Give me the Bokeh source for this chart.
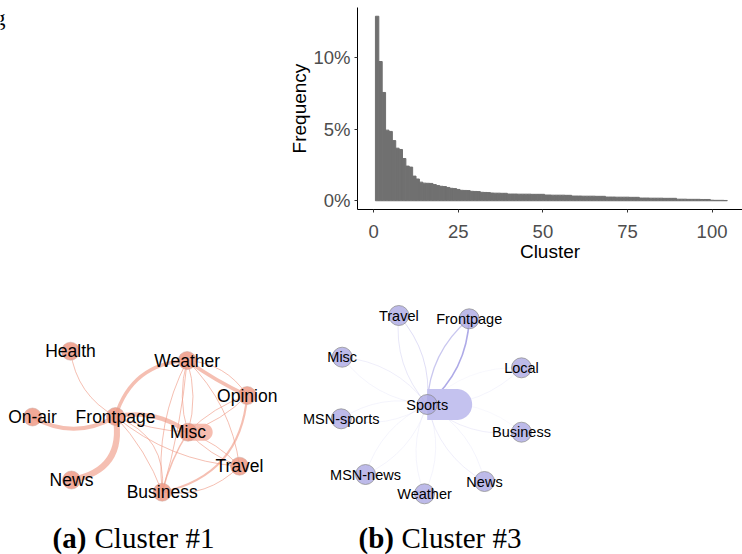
import numpy as np
from bokeh.plotting import figure
from bokeh.layouts import column, row
from bokeh.models import Range1d, FixedTicker, PrintfTickFormatter
from bokeh.core.properties import value
from bokeh.embed import file_html
from bokeh.resources import INLINE

# ---------------- histogram data ----------------
cluster_ids = list(range(1, 105))
cluster_freq = [
    12.88, 9.72, 7.56, 4.93, 4.84, 4.20, 3.67, 3.58, 2.95, 2.42,
    2.35, 1.72, 1.52, 1.30, 1.23, 1.22, 1.21, 1.13, 1.06, 1.01,
    0.99, 0.93, 0.87, 0.85, 0.79, 0.73, 0.72, 0.71, 0.66, 0.65,
    0.64, 0.59, 0.58, 0.57, 0.54, 0.53, 0.53, 0.52, 0.52,
    0.47, 0.47, 0.47, 0.46, 0.46, 0.46, 0.46, 0.45, 0.45, 0.45, 0.45,
    0.40, 0.40, 0.39, 0.39, 0.39, 0.39, 0.38, 0.38,
    0.33, 0.33, 0.33, 0.32, 0.32, 0.32, 0.32, 0.31, 0.31, 0.31,
    0.26, 0.26, 0.26, 0.25, 0.25, 0.25, 0.25, 0.24, 0.24, 0.24,
    0.19, 0.19, 0.19, 0.18, 0.18, 0.18, 0.18, 0.17, 0.17, 0.17, 0.17,
    0.11, 0.11, 0.11, 0.10, 0.10, 0.10, 0.10, 0.09, 0.09, 0.09,
    0.04, 0.03, 0.03, 0.03, 0.02,
]
x_ticks = [0, 25, 50, 75, 100]
y_ticks = [0, 5, 10]

# ---------------- network: cluster #1 ----------------
c1_names = ["Health", "Weather", "Opinion", "On-air", "Frontpage", "Misc", "Travel", "News", "Business"]
c1_x = [70, 186.7, 246.7, 32, 115, 187.5, 239, 71, 161.7]
c1_y = [350.7, 360, 395, 416.5, 416, 431.7, 465.7, 479.5, 491.7]
c1_src = ["Health", "On-air", "Frontpage", "Frontpage", "Frontpage", "Frontpage", "Frontpage", "Frontpage", "Frontpage",
          "Weather", "Weather", "Weather", "Weather", "Weather", "Weather", "Weather",
          "Opinion", "Opinion", "Opinion", "Misc", "Misc", "Misc", "Travel"]
c1_dst = ["Frontpage", "Frontpage", "News", "Weather", "Misc", "Misc", "Travel", "Business", "Business",
          "Opinion", "Opinion", "Misc", "Misc", "Business", "Business", "Travel",
          "Misc", "Misc", "Business", "Travel", "Travel", "Business", "Business"]
c1_weight = [1, 4, 6, 3.5, 4.5, 1, 1, 1, 1,
             3.5, 1, 1, 1, 1, 1, 1,
             1, 1, 2.2, 1, 1, 1.5, 1]
c1_curv = [0.25, 0.29, -0.5, -0.35, -0.22, 0.08, 0.16, -0.38, -0.1,
           0.05, -0.25, 0.15, -0.15, 0.15, -0.05, -0.17,
           0.12, -0.12, -0.37, 0.12, -0.12, 0.08, -0.25]
c1_loop_node = "Misc"
c1_loop_size = 8.5

# ---------------- network: cluster #3 ----------------
c3_names = ["Travel", "Frontpage", "Misc", "Local", "Sports", "MSN-sports", "Business", "MSN-news", "News", "Weather"]
c3_x = [398.3, 468.7, 341.7, 521, 426.7, 340.7, 521, 365, 484, 424]
c3_y = [315, 318.3, 356.7, 367.3, 404, 418.3, 431.7, 474, 481, 493.3]
c3_partners = ["Travel", "Frontpage", "Misc", "Local", "MSN-sports", "Business", "MSN-news", "News", "Weather"]
c3_weight_out = [1.0, 1.6, 0.8, 0.7, 0.7, 0.8, 0.7, 0.8, 0.7]
c3_weight_in = [0.9, 1.3, 0.7, 0.6, 0.7, 0.6, 0.7, 0.7, 0.7]
c3_curv = 0.22
c3_loop_node = "Sports"
c3_loop_size = 15.5


def curve_coords(names, xs, ys, src, dst, curv):
    idx = {n: i for i, n in enumerate(names)}
    x0, y0, x1, y1, cx, cy = [], [], [], [], [], []
    for a, b, c in zip(src, dst, curv):
        ax, ay = xs[idx[a]], ys[idx[a]]
        bx, by = xs[idx[b]], ys[idx[b]]
        dx, dy = bx - ax, by - ay
        mx, my = (ax + bx) / 2, (ay + by) / 2
        x0.append(ax); y0.append(ay); x1.append(bx); y1.append(by)
        cx.append(mx - c * dy); cy.append(my + c * dx)
    return dict(x0=x0, y0=y0, x1=x1, y1=y1, cx=cx, cy=cy)


def loop_shape(names, xs, ys, node, r):
    i = names.index(node)
    x, y = xs[i], ys[i]
    w = r * 1.9
    t = np.linspace(-np.pi / 2, np.pi / 2, 40)
    px = [x] + list(x + w + r * np.cos(t)) + [x]
    py = [y - r] + list(y + r * np.sin(t)) + [y + r]
    return px, py


def net_fig(w, xa, xb):
    p = figure(width=w, height=286, x_range=Range1d(xa, xb), y_range=Range1d(554, 268),
               output_backend="svg", toolbar_location=None, min_border=0,
               x_axis_location=None, y_axis_location=None)
    p.grid.visible = False
    p.outline_line_color = None
    return p


def caption(p, x_tag, x_txt, tag, txt):
    p.text(x=[x_tag], y=[537], text=[tag], text_font=value("Liberation Serif"), text_font_style="bold",
           text_font_size=value("29px"), text_baseline="middle", text_align="left", text_color="black")
    p.text(x=[x_txt], y=[537], text=[txt], text_font=value("Liberation Serif"),
           text_font_size=value("29px"), text_baseline="middle", text_align="left", text_color="black")


# ---------------- top-left fragment ----------------
pg = figure(width=250, height=268, x_range=Range1d(0, 250), y_range=Range1d(268, 0),
            output_backend="svg", toolbar_location=None, min_border=0,
            x_axis_location=None, y_axis_location=None)
pg.grid.visible = False
pg.outline_line_color = None
pg.text(x=[-6], y=[13], text=["g"], text_font=value("Liberation Serif"), text_font_size=value("22px"),
        text_baseline="middle", text_align="left", text_color="black")

# ---------------- histogram ----------------
ph = figure(width=492, height=268, x_range=Range1d(-4.8, 109.0), y_range=Range1d(-0.61, 13.49),
            output_backend="svg", toolbar_location=None,
            min_border_left=107, min_border_right=0, min_border_top=7, min_border_bottom=59)
ph.vbar(x=cluster_ids, top=cluster_freq, bottom=0, width=1.0,
        fill_color="#707070", line_color="#707070", line_width=1.0)
ph.grid.visible = False
ph.outline_line_color = None
ph.xaxis.ticker = FixedTicker(ticks=x_ticks)
ph.yaxis.ticker = FixedTicker(ticks=y_ticks)
ph.yaxis.formatter = PrintfTickFormatter(format="%d%%")
ph.xaxis.axis_label = "Cluster"
ph.yaxis.axis_label = "Frequency"
for ax in (ph.xaxis[0], ph.yaxis[0]):
    ax.axis_line_color = "black"
    ax.axis_line_width = 1
    ax.major_tick_line_color = "#333333"
    ax.major_tick_out = 3
    ax.major_tick_in = 0
    ax.minor_tick_out = 0
    ax.minor_tick_in = 0
    ax.major_label_text_font = "Liberation Sans"
    ax.major_label_text_font_size = "18.5px"
    ax.major_label_text_color = "#4D4D4D"
    ax.axis_label_text_font = "Liberation Sans"
    ax.axis_label_text_font_size = "19px"
    ax.axis_label_text_font_style = "normal"
    ax.axis_label_text_color = "black"
ph.xaxis[0].major_label_standoff = 12
ph.xaxis[0].axis_label_standoff = 0
ph.yaxis[0].major_label_standoff = 4
ph.yaxis[0].axis_label_standoff = 0

# ---------------- cluster #1 network ----------------
p1 = net_fig(290, 0, 290)
e1 = curve_coords(c1_names, c1_x, c1_y, c1_src, c1_dst, c1_curv)
e1["lw"] = [w * 1.0 for w in c1_weight]
p1.quadratic(x0="x0", y0="y0", x1="x1", y1="y1", cx="cx", cy="cy", source=e1,
             line_color="#F09C88", line_alpha=0.65, line_width="lw")
lx, ly = loop_shape(c1_names, c1_x, c1_y, c1_loop_node, c1_loop_size)
p1.patch(lx, ly, fill_color="#F4B2A2", fill_alpha=0.85, line_color=None)
p1.scatter(c1_x, c1_y, size=18, fill_color="#EE9A86", fill_alpha=0.85,
           line_color="#C9A49B", line_alpha=0.6, line_width=0.8)
p1.text(c1_x, c1_y, text=c1_names, text_font=value("Liberation Sans"), text_font_size=value("17.5px"),
        text_align="center", text_baseline="middle", text_color="black")
caption(p1, 52, 94, "(a)", "Cluster #1")

# ---------------- cluster #3 network ----------------
p3 = net_fig(452, 290, 742)
src3 = ["Sports"] * len(c3_partners) + list(c3_partners)
dst3 = list(c3_partners) + ["Sports"] * len(c3_partners)
curv3 = [c3_curv] * len(c3_partners) + [c3_curv] * len(c3_partners)
w3 = list(c3_weight_out) + list(c3_weight_in)
e3 = curve_coords(c3_names, c3_x, c3_y, src3, dst3, curv3)
e3["lw"] = w3
e3["la"] = [min(0.9, 0.28 * w ** 2) for w in w3]
p3.quadratic(x0="x0", y0="y0", x1="x1", y1="y1", cx="cx", cy="cy", source=e3,
             line_color="#8E88DD", line_alpha="la", line_width="lw")
lx, ly = loop_shape(c3_names, c3_x, c3_y, c3_loop_node, c3_loop_size)
p3.patch(lx, ly, fill_color="#C4C2EF", fill_alpha=1.0, line_color=None)
p3.scatter(c3_x, c3_y, size=20, fill_color="#ADA9E4", fill_alpha=0.8,
           line_color="#8A8A8A", line_alpha=0.9, line_width=0.8)
p3.text(c3_x, c3_y, text=c3_names, text_font=value("Liberation Sans"), text_font_size=value("14.5px"),
        text_align="center", text_baseline="middle", text_color="black")
caption(p3, 358, 401, "(b)", "Cluster #3")

layout = column(row(pg, ph), row(p1, p3))
open("out.html", "w").write(file_html(layout, INLINE))
